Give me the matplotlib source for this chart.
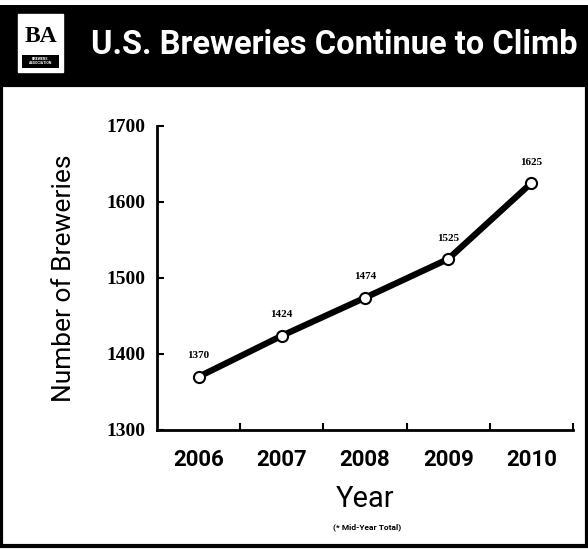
import matplotlib
matplotlib.use("Agg")
import matplotlib.pyplot as plt
from matplotlib.patches import Rectangle

# данные графика
years = ["2006", "2007", "2008", "2009", "2010"]
breweries = [1370, 1424, 1474, 1525, 1625]
y_ticks = [1300, 1400, 1500, 1600, 1700]

title = "U.S. Breweries Continue to Climb"
sans = ["Roboto", "DejaVu Sans"]
serif = ["Liberation Serif", "DejaVu Serif"]

W, H = 588, 550
fig = plt.figure(figsize=(W / 100, H / 100), dpi=100)
fig.patch.set_facecolor("white")

# шапка и рамка
fig.add_artist(Rectangle((0, 1 - 85 / H), 1, 80 / H, transform=fig.transFigure,
                         facecolor="black", edgecolor="none"))
fig.add_artist(Rectangle((1.5 / W, 4 / H), 1 - 3 / W, 1 - 89 / H, transform=fig.transFigure,
                         facecolor="none", edgecolor="black", linewidth=3))

# логотип
fig.add_artist(Rectangle((18 / W, 1 - 72 / H), 45 / W, 58 / H, transform=fig.transFigure,
                         facecolor="white", edgecolor="white", linewidth=1))
fig.add_artist(Rectangle((22 / W, 1 - 68 / H), 37 / W, 13 / H, transform=fig.transFigure,
                         facecolor="black", edgecolor="none"))
fig.text(40.5 / W, 1 - 36 / H, "BA", family=serif, fontweight="bold", fontsize=17,
         ha="center", va="center", color="black")
fig.text(40.5 / W, 1 - 61.5 / H, "BREWERS\nASSOCIATION", family=sans, fontweight="bold",
         fontsize=2.6, ha="center", va="center", color="white", linespacing=1.0)

fig.text(334 / W, 1 - 45 / H, title, family=sans, fontweight="bold", fontsize=23.5,
         ha="center", va="center", color="white")

ax = fig.add_axes([157 / W, 120 / H, 416 / W, 304 / H])
x = list(range(len(years)))
ax.plot(x, breweries, color="black", linewidth=4.5, marker="o", markersize=8,
        markerfacecolor="white", markeredgecolor="black", markeredgewidth=1.5, zorder=3)
for xi, v in zip(x, breweries):
    ax.annotate(str(v), (xi, v), xytext=(0, 15), textcoords="offset points",
                ha="center", va="center", family=serif, fontweight="bold", fontsize=8)

ax.set_xlim(-0.5, len(years) - 0.5)
ax.set_ylim(y_ticks[0], y_ticks[-1])
ax.set_xticks(x)
ax.set_xticklabels(years, family=sans, fontweight="bold", fontsize=16)
ax.set_xticks([i + 0.5 for i in x], minor=True)
ax.tick_params(axis="x", which="major", length=0, pad=14)
ax.tick_params(axis="x", which="minor", direction="in", length=5, width=1.5)
ax.set_yticks(y_ticks)
ax.set_yticklabels([str(t) for t in y_ticks], family=serif, fontweight="bold", fontsize=14)
ax.tick_params(axis="y", direction="in", length=5, width=1.5, pad=8)

for s in ["top", "right"]:
    ax.spines[s].set_visible(False)
for s in ["left", "bottom"]:
    ax.spines[s].set_linewidth(2)

ax.set_ylabel("Number of Breweries", family=sans, fontsize=19, labelpad=22)
ax.set_xlabel("Year", family=sans, fontsize=21, labelpad=10)
fig.text(367 / W, 1 - 527 / H, "(* Mid-Year Total)", family=sans, fontweight="bold",
         fontsize=6, ha="center", va="center")

fig.savefig("out.png", dpi=100)
